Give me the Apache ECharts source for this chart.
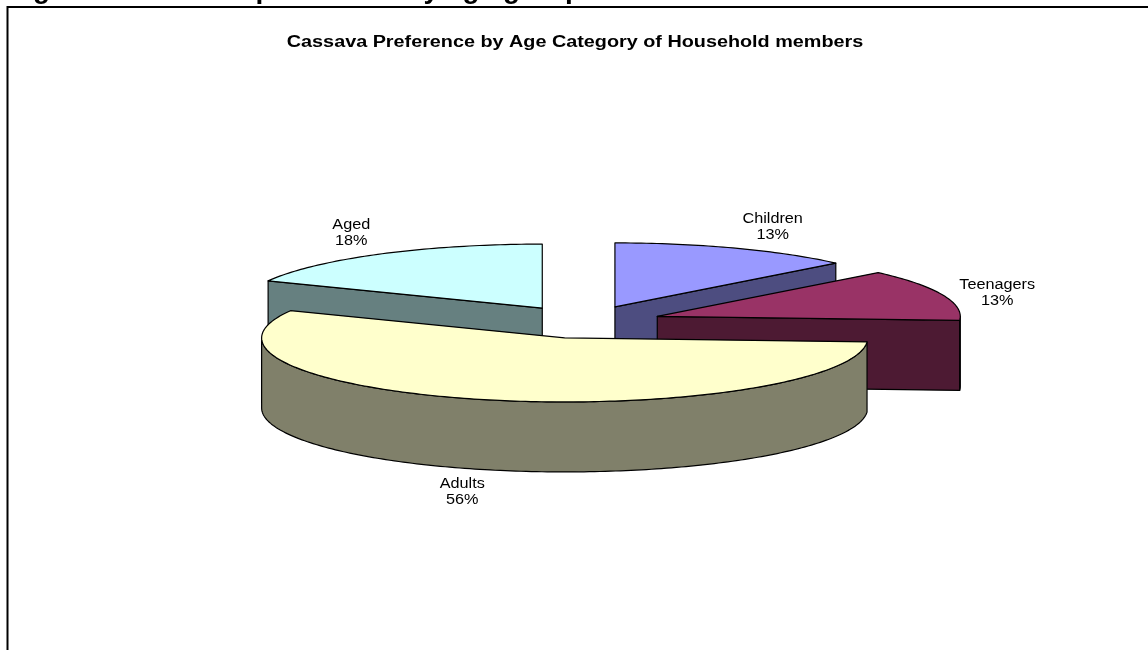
<!DOCTYPE html>
<html>
<head>
<meta charset="utf-8">
<script src="https://cdn.jsdelivr.net/npm/echarts@6/dist/echarts.min.js"></script>
<style>
  html, body { margin: 0; padding: 0; background: #fff; }
  #chart { width: 1148px; height: 650px; }
</style>
</head>
<body>
<div id="chart"></div>
<script>
// Share of household members who prefer cassava, by age category (%)
const categories = ['Children', 'Teenagers', 'Adults', 'Aged'];
const shares = [13, 13, 56, 18];

// Lit top faces and shaded walls for each category
const topColors = ['#9999FF', '#993366', '#FFFFCC', '#CCFFFF'];
const wallColors = ['#4D4D80', '#4D1A33', '#80806A', '#668080'];

const FONT = '"Liberation Sans", Arial, Helvetica, sans-serif';
const LABEL_SIZE = 14;
const LABEL_LINE = 16;
const LABEL_STRETCH = 1.16;   // text in this sheet is drawn slightly wide
const LABEL_GAP = [18, 6];
const TITLE_SIZE = 16;
const TITLE_STRETCH = 1.237;

// 3-D pie geometry in pixels: ellipse centre, radii, wall depth, explode fraction
const PIE = { cx: 584, cy: 322, rx: 303, ry: 64, depth: 70, explode: 0.257, startDeg: 270 };

const rad = d => d * Math.PI / 180;
const total = shares.reduce((a, b) => a + b, 0);

// Slice angles, clockwise from 12 o'clock
const slices = [];
let acc = PIE.startDeg;
shares.forEach(v => {
  const a1 = acc, a2 = acc + v / total * 360;
  acc = a2;
  slices.push({ a1, a2, mid: (a1 + a2) / 2 });
});

// Painter's order: slices further back are drawn first
const order = slices.map((s, i) => i)
  .sort((p, q) => Math.sin(rad(slices[p].mid)) - Math.sin(rad(slices[q].mid)));
const rank = [];
order.forEach((idx, r) => { rank[idx] = r; });

const measure = document.createElement('canvas').getContext('2d');

function renderSlice(params, api) {
  const i = params.dataIndex;
  const value = api.value(0);
  const s = slices[i];
  const m = rad(s.mid);
  const ox = PIE.cx + PIE.explode * PIE.rx * Math.cos(m);
  const oy = PIE.cy + PIE.explode * PIE.ry * Math.sin(m);
  const pt = (deg, dz) => [ox + PIE.rx * Math.cos(rad(deg)), oy + PIE.ry * Math.sin(rad(deg)) + (dz || 0)];
  const arc = (from, to, dz) => {
    const n = Math.max(2, Math.ceil(Math.abs(to - from)));
    const out = [];
    for (let k = 0; k <= n; k++) out.push(pt(from + (to - from) * k / n, dz));
    return out;
  };
  const edge = { stroke: '#000', lineWidth: 1.2, lineJoin: 'round' };
  const base = rank[i] * 10;
  const parts = [];

  // Curved outer wall, only where it faces the viewer
  for (let k = 0; k < 3; k++) {
    const lo = Math.max(s.a1, k * 360), hi = Math.min(s.a2, k * 360 + 180);
    if (hi > lo) {
      parts.push({
        type: 'polygon', z2: base + 1,
        shape: { points: arc(lo, hi, 0).concat(arc(hi, lo, PIE.depth)) },
        style: Object.assign({ fill: wallColors[i] }, edge)
      });
    }
  }

  // Radial cut faces exposed by the explode
  const face = deg => ({
    type: 'polygon', z2: base + 2,
    shape: { points: [[ox, oy], pt(deg), pt(deg, PIE.depth), [ox, oy + PIE.depth]] },
    style: Object.assign({ fill: wallColors[i] }, edge)
  });
  if (Math.cos(rad(s.a1)) < -1e-6) parts.push(face(s.a1));
  if (Math.cos(rad(s.a2)) > 1e-6) parts.push(face(s.a2));

  // Top face
  parts.push({
    type: 'polygon', z2: base + 5,
    shape: { points: [[ox, oy]].concat(arc(s.a1, s.a2, 0)) },
    style: Object.assign({ fill: topColors[i] }, edge)
  });

  // Category and percentage label outside the slice
  const cm = Math.cos(m), sm = Math.sin(m);
  const ex = ox + PIE.rx * cm;
  const ey = oy + PIE.ry * sm + (sm > 0 ? PIE.depth : 0);
  const ax = ex + LABEL_GAP[0] * cm, ay = ey + LABEL_GAP[1] * sm;
  const text = categories[i] + '\n' + Math.round(value / total * 100) + '%';
  measure.font = LABEL_SIZE + 'px ' + FONT;
  const w = LABEL_STRETCH * Math.max(...text.split('\n').map(t => measure.measureText(t).width));
  const h = 2 * LABEL_LINE;
  const tx = cm > 0.2 ? ax + w / 2 : (cm < -0.2 ? ax - w / 2 : ax);
  const ty = sm < -0.5 ? ay - h : (sm > 0.5 ? ay : ay - h / 2);
  parts.push({
    type: 'text', z2: 100, x: tx, y: ty, scaleX: LABEL_STRETCH,
    style: {
      text, x: 0, y: 0, align: 'center', verticalAlign: 'top',
      fontSize: LABEL_SIZE, fontFamily: FONT, lineHeight: LABEL_LINE, fill: '#000'
    }
  });

  return { type: 'group', children: parts };
}

const chart = echarts.init(document.getElementById('chart'), null, { renderer: 'canvas' });
chart.setOption({
  backgroundColor: '#fff',
  animation: false,
  graphic: [
    {
      type: 'text', left: 8, top: -24, z: 10,
      style: { text: 'Figure 5: Cassava preference by age group', font: 'bold 28px ' + FONT, fill: '#000' }
    },
    {
      type: 'rect', z: -1,
      shape: { x: 7.5, y: 7, width: 1200, height: 700 },
      style: { fill: 'none', stroke: '#000', lineWidth: 2 }
    },
    {
      type: 'text', x: 575, y: 35, scaleX: TITLE_STRETCH, z: 10,
      style: {
        text: 'Cassava Preference by Age Category of Household members',
        x: 0, y: 0, align: 'center', verticalAlign: 'top',
        font: 'bold ' + TITLE_SIZE + 'px ' + FONT, fill: '#000'
      }
    }
  ],
  series: [{
    type: 'custom',
    coordinateSystem: 'none',
    silent: true,
    renderItem: renderSlice,
    data: categories.map((name, i) => ({ name, value: [shares[i]] }))
  }]
});
</script>
</body>
</html>
